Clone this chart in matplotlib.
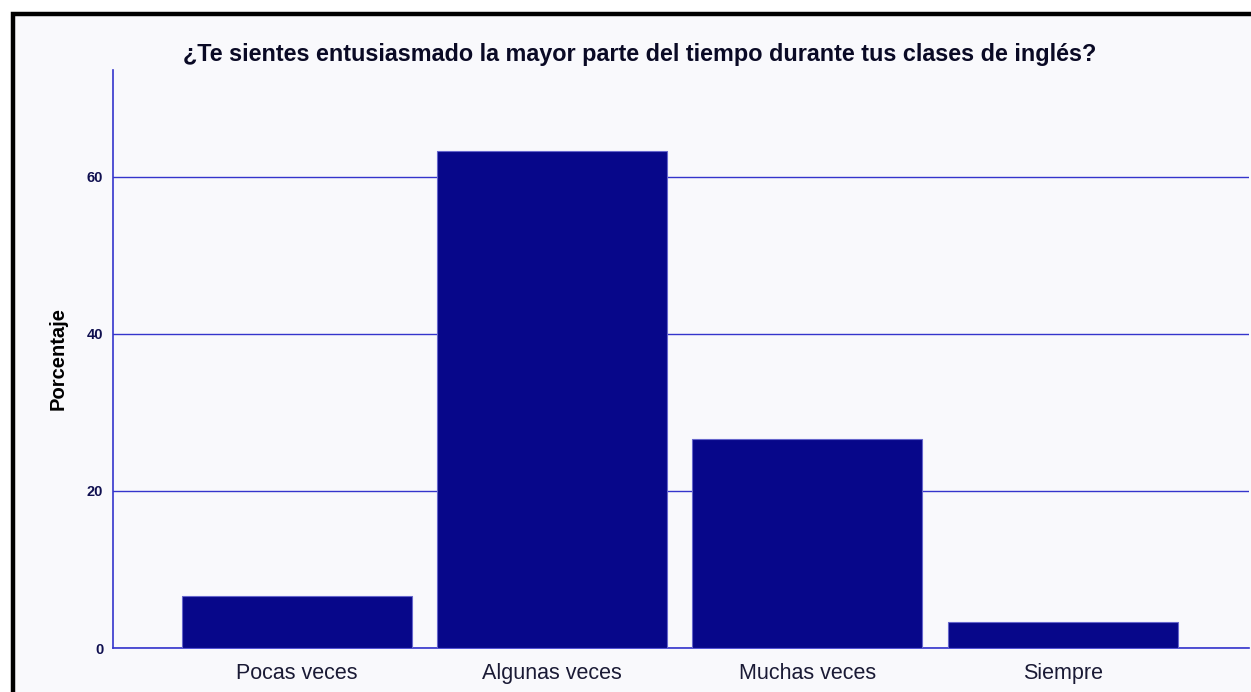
import numpy as np
import matplotlib.pyplot as plt
from matplotlib.lines import Line2D

# datos (porcentaje, n=30)
categorias = ["Pocas veces", "Algunas veces", "Muchas veces", "Siempre"]
porcentajes = [6.67, 63.33, 26.67, 3.33]
ticks_y = [0, 20, 40, 60]

titulo = "¿Te sientes entusiasmado la mayor parte del tiempo durante tus clases de inglés?"

fondo = "#F9F9FC"
azul_barra = "#07078A"
azul_linea = "#3535CC"

plt.rcParams['font.family'] = ['Liberation Sans', 'DejaVu Sans']

fig = plt.figure(figsize=(12.51, 6.92), dpi=100)
fig.patch.set_facecolor("white")

# fondo interior y borde negro (arriba e izquierda)
fig.patches.append(plt.Rectangle((13 / 1251, 0), 1, 1 - 14 / 692, transform=fig.transFigure,
                                 facecolor=fondo, edgecolor="none", zorder=-5))
fig.lines.append(Line2D([13 / 1251, 13 / 1251, 1.0], [0, 1 - 14 / 692, 1 - 14 / 692],
                        transform=fig.transFigure, color="black", linewidth=3.2,
                        solid_joinstyle="miter", zorder=5))

ax = fig.add_axes([113 / 1251, 44 / 692, (1249 - 113) / 1251, (648 - 70) / 692])
ax.set_zorder(1)
ax.patch.set_alpha(0)

x = np.arange(len(categorias))
ax.bar(x, porcentajes, width=0.9, color=azul_barra, edgecolor="#6666CC", linewidth=0.8, zorder=3)

ax.set_xlim(-0.72, 3.73)
ax.set_ylim(0, 73.6)
ax.set_yticks(ticks_y)
ax.set_xticks(x)
ax.set_xticklabels(categorias, fontsize=15.5, color="#1A1A35")
ax.tick_params(axis="x", length=0, pad=11)
ax.tick_params(axis="y", length=0, labelsize=10.5, labelcolor="#101050", pad=7)
for t in ax.get_yticklabels():
    t.set_fontweight("bold")

ax.grid(axis="y", color=azul_linea, linewidth=1.0, zorder=1)
ax.set_axisbelow(True)

for s in ["top", "right"]:
    ax.spines[s].set_visible(False)
for s in ["left", "bottom"]:
    ax.spines[s].set_color(azul_linea)
    ax.spines[s].set_linewidth(1.2)

ax.set_ylabel("Porcentaje", fontsize=14.5, fontweight="bold", color="black", labelpad=14)

fig.text(640 / 1251, 1 - 55 / 692, titulo, ha="center", va="center",
         fontsize=16.8, fontweight="bold", color="#0A0A25")

fig.savefig("out.png", dpi=100, facecolor=fig.get_facecolor())
